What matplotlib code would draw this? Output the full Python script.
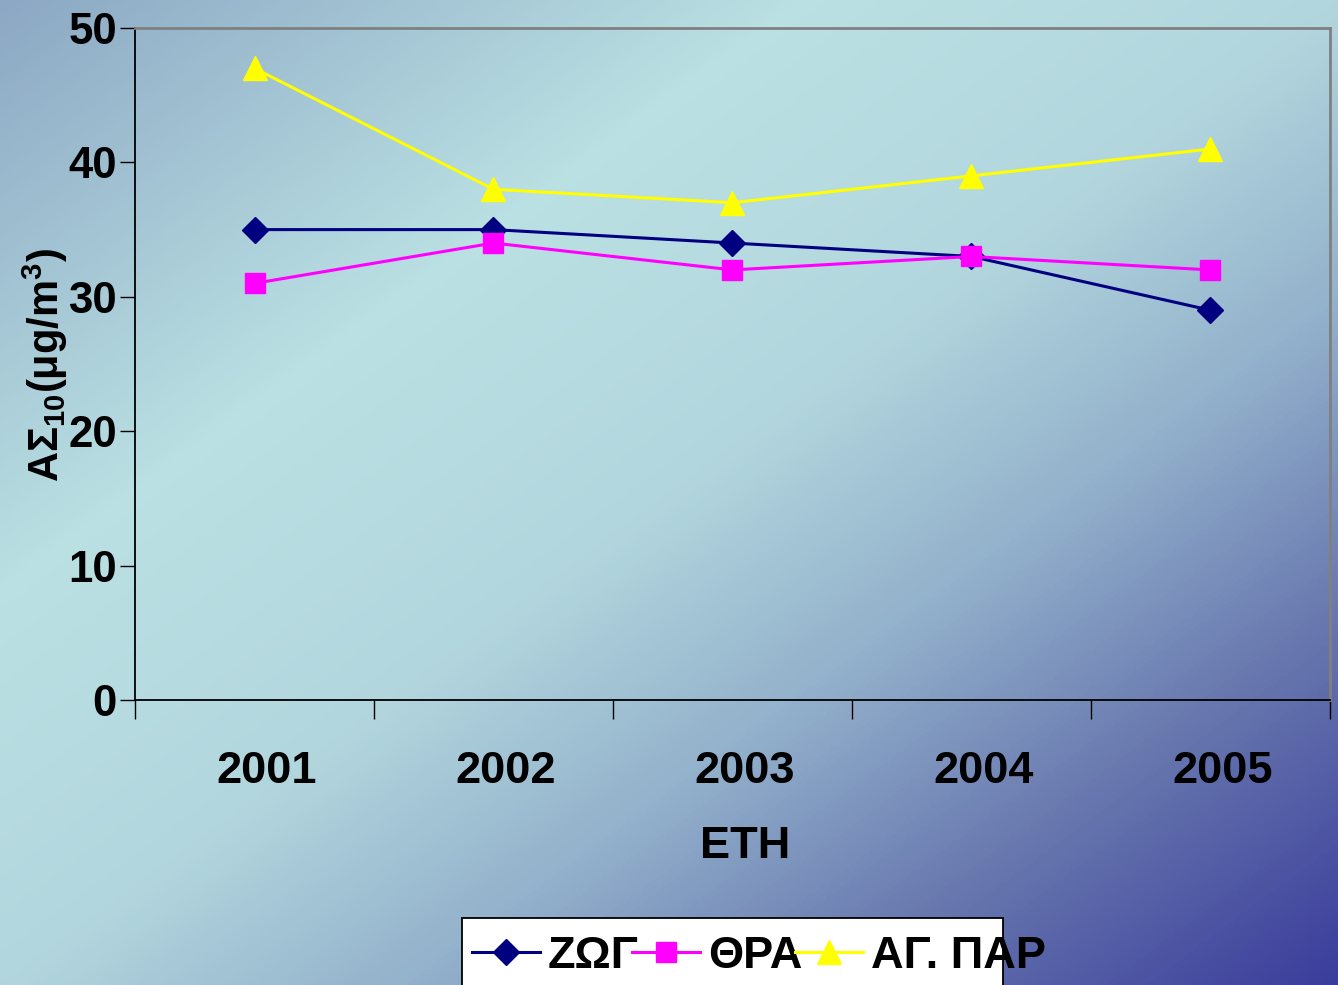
import numpy as np
import matplotlib
matplotlib.use("Agg")
import matplotlib.pyplot as plt
from matplotlib.colors import LinearSegmentedColormap
from matplotlib.ticker import FixedLocator
from matplotlib.patches import Rectangle

years = ["2001", "2002", "2003", "2004", "2005"]
zog = [35, 35, 34, 33, 29]
thra = [31, 34, 32, 33, 32]
agpar = [47, 38, 37, 39, 41]
series_names = ["ΖΩΓ", "ΘΡΑ", "ΑΓ. ΠΑΡ"]
y_ticks = [0, 10, 20, 30, 40, 50]

plt.rcParams['font.family'] = ['Liberation Sans', 'DejaVu Sans']
plt.rcParams['font.weight'] = 'bold'
plt.rcParams['mathtext.fontset'] = 'custom'
plt.rcParams['mathtext.rm'] = 'Liberation Sans:bold'
plt.rcParams['mathtext.it'] = 'Liberation Sans:bold'
plt.rcParams['mathtext.bf'] = 'Liberation Sans:bold'

W, H = 1338, 985
fig = plt.figure(figsize=(W / 100, H / 100), dpi=100)

# background gradient
bg = fig.add_axes([0, 0, 1, 1], zorder=-10)
bg.axis("off")
xx, yy = np.meshgrid(np.linspace(0, 1, 400), np.linspace(0, 1, 300))
t = (xx + yy) / 2
cmap = LinearSegmentedColormap.from_list("bg", [
    (0.0, (0.55, 0.66, 0.77)),
    (0.30, (0.73, 0.88, 0.89)),
    (0.50, (0.70, 0.84, 0.87)),
    (0.65, (0.58, 0.70, 0.80)),
    (0.82, (0.40, 0.46, 0.68)),
    (1.0, (0.23, 0.24, 0.61)),
])
bg.imshow(t, cmap=cmap, aspect="auto", extent=[0, 1, 0, 1], origin="upper", vmin=0, vmax=1)

ax = fig.add_axes([135 / W, 1 - 700 / H, (1330 - 135) / W, (700 - 28) / H])
ax.set_facecolor("none")

x = np.arange(len(years)) + 0.5
l1, = ax.plot(x, zog, color="#000080", lw=2.2, marker="D", ms=13, label=series_names[0])
l2, = ax.plot(x, thra, color="#FF00FF", lw=2.2, marker="s", ms=14, label=series_names[1])
l3, = ax.plot(x, agpar, color="#FFFF00", lw=2.2, marker="^", ms=17, label=series_names[2])

ax.set_xlim(0, len(years))
ax.set_ylim(0, 50)
ax.set_yticks(y_ticks)
ax.set_yticklabels([str(v) for v in y_ticks], fontsize=31.5, fontweight="bold")
ax.tick_params(axis="y", direction="out", length=11, width=1, pad=2)

ax.xaxis.set_major_locator(FixedLocator(np.arange(len(years) + 1)))
ax.set_xticklabels([])
ax.tick_params(axis="x", which="major", direction="out", length=14, width=1)
ax.xaxis.set_minor_locator(FixedLocator(x + 0.05))
ax.set_xticklabels(years, minor=True, fontsize=32.5, fontweight="bold")
ax.tick_params(axis="x", which="minor", length=0, pad=37)

for s in ["left", "bottom"]:
    ax.spines[s].set_color("black")
    ax.spines[s].set_linewidth(1.3)
for s in ["top", "right"]:
    ax.spines[s].set_color("#808080")
    ax.spines[s].set_linewidth(2)

ax.set_xlabel("ΕΤΗ", fontsize=32.5, fontweight="bold")
ax.xaxis.set_label_coords((745 - 135) / (1330 - 135), -(826 - 700) / (700 - 28), transform=ax.transAxes)
fig.text(45 / W, 1 - 365 / H, "ΑΣ$_{10}$(μg/m$^{3}$)", rotation=90, fontsize=30,
         fontweight="bold", ha="center", va="center")

# legend box (text overflows the box as in the reference)
fig.patches.append(Rectangle((462 / W, -0.02), (1003 - 462) / W, (985 - 918) / H + 0.02,
                             transform=fig.transFigure, facecolor="white",
                             edgecolor="black", linewidth=1.3, zorder=5))
leg = fig.legend(handles=[l1, l2, l3], loc="center left", bbox_to_anchor=(472 / W, 1 - 956 / H),
                 ncol=3, frameon=False, handlelength=1.5,
                 handletextpad=0.18, columnspacing=-0.15, borderaxespad=0, borderpad=0,
                 prop={"weight": "bold", "size": 32.5})
leg.set_zorder(6)

fig.savefig("out.png", dpi=100)
